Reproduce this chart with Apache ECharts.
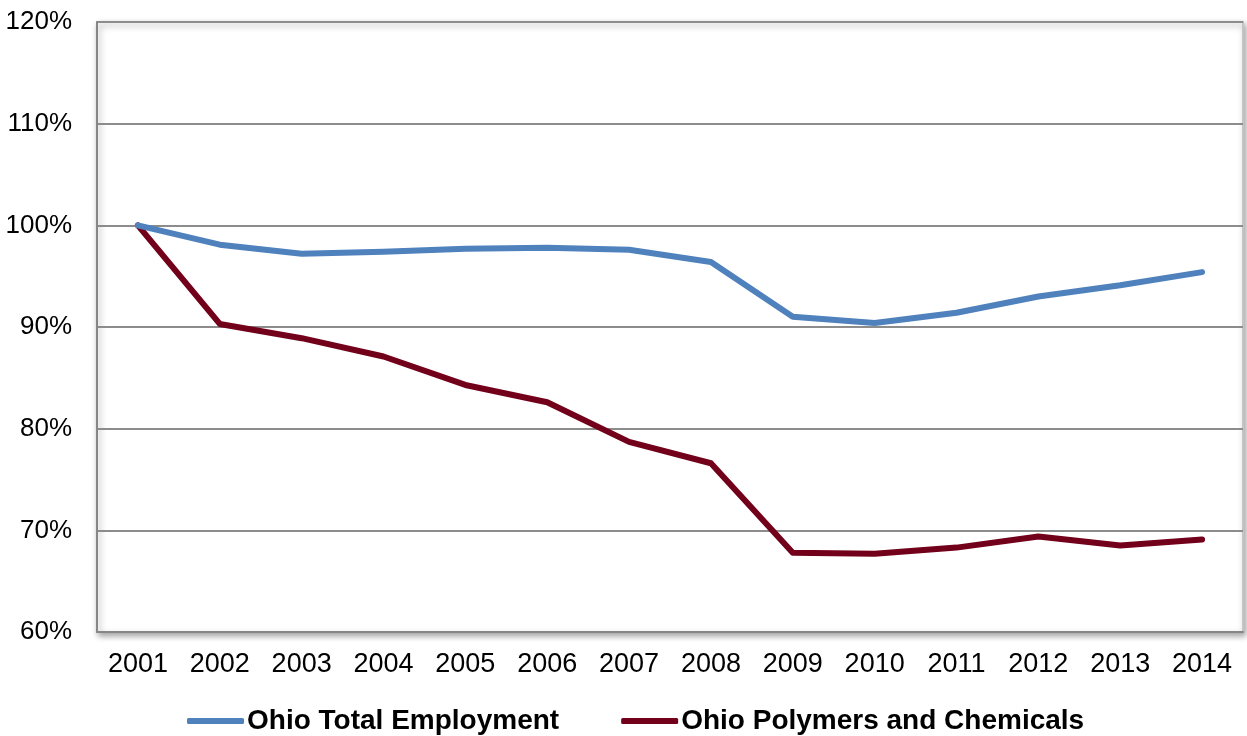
<!DOCTYPE html>
<html>
<head>
<meta charset="utf-8">
<script src="https://cdn.jsdelivr.net/npm/echarts@6/dist/echarts.min.js"></script>
<style>
  html, body { margin: 0; padding: 0; background: #ffffff; }
  #chart { width: 1247px; height: 736px; }
</style>
</head>
<body>
<div id="chart"></div>
<script>
// Employment index, 2001 = 100%
const years = ['2001', '2002', '2003', '2004', '2005', '2006', '2007',
               '2008', '2009', '2010', '2011', '2012', '2013', '2014'];
const totalEmployment = [100, 98.1, 97.2, 97.4, 97.7, 97.8, 97.6,
                         96.4, 91.0, 90.4, 91.4, 93.0, 94.1, 95.4];
const polymersChemicals = [100, 90.3, 88.9, 87.1, 84.3, 82.6, 78.7,
                           76.6, 67.8, 67.7, 68.3, 69.4, 68.5, 69.1];
const seriesNames = ['Ohio Total Employment', 'Ohio Polymers and Chemicals'];
const yTicks = { min: 60, max: 120, step: 10 };

const font = '"Liberation Sans", Arial, Helvetica, sans-serif';
const chart = echarts.init(document.getElementById('chart'), null, { renderer: 'canvas' });

chart.setOption({
  backgroundColor: '#ffffff',
  animation: false,
  textStyle: { fontFamily: font },
  grid: {
    left: 97, right: 4, top: 22, bottom: 104,
    show: true,
    backgroundColor: '#ffffff',
    borderColor: '#c4c4c4',
    borderWidth: 2,
    shadowColor: 'rgba(0,0,0,0.35)',
    shadowBlur: 6,
    shadowOffsetX: 2,
    shadowOffsetY: 3
  },
  legend: {
    bottom: -4,
    left: 182,
    icon: 'roundRect',
    itemWidth: 57,
    itemHeight: 6,
    itemGap: 62,
    textStyle: { fontFamily: font, fontSize: 28, fontWeight: 'bold', color: '#000', padding: [0, 0, 0, -2] },
    data: seriesNames
  },
  xAxis: {
    type: 'category',
    data: years,
    boundaryGap: true,
    axisLine: { show: true, lineStyle: { color: '#868686', width: 2 } },
    axisTick: { show: false },
    axisLabel: { color: '#000', fontSize: 27, margin: 19, fontFamily: font }
  },
  yAxis: {
    type: 'value',
    min: yTicks.min,
    max: yTicks.max,
    interval: yTicks.step,
    axisLine: { show: true, lineStyle: { color: '#868686', width: 2 } },
    axisTick: { show: false },
    axisLabel: { color: '#000', fontSize: 26, margin: 25, fontFamily: font, formatter: '{value}%' },
    splitLine: { show: true, lineStyle: { color: '#8c8c8c', width: 2 } }
  },
  series: [
    {
      name: seriesNames[0],
      type: 'line',
      data: totalEmployment,
      showSymbol: false,
      symbol: 'none',
      color: '#4f81bd',
      lineStyle: { color: '#4f81bd', width: 6, cap: 'round', join: 'round' },
      z: 3
    },
    {
      name: seriesNames[1],
      type: 'line',
      data: polymersChemicals,
      showSymbol: false,
      symbol: 'none',
      color: '#72001b',
      lineStyle: { color: '#72001b', width: 6, cap: 'round', join: 'round' },
      z: 2
    }
  ]
});
</script>
</body>
</html>
